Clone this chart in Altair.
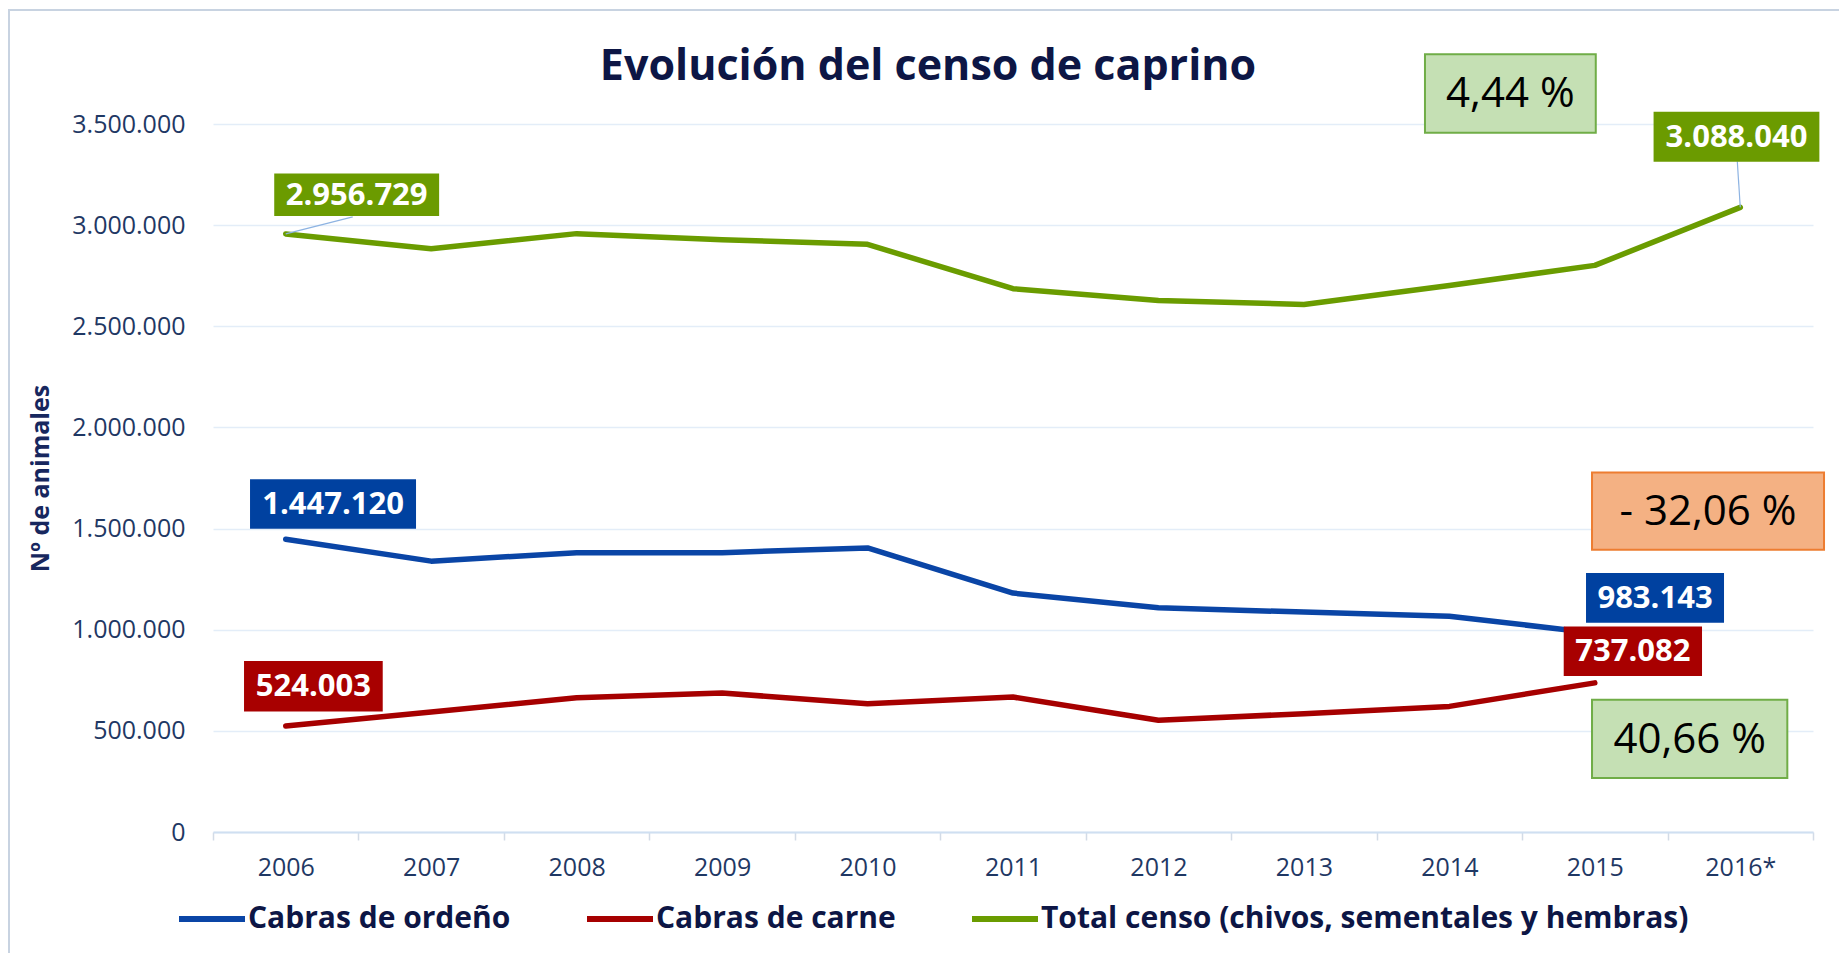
import altair as alt
import pandas as pd

# ---------------- data ----------------
title_text = "Evolución del censo de caprino"
years = ["2006", "2007", "2008", "2009", "2010", "2011", "2012", "2013", "2014", "2015", "2016*"]
ordeno = [1447120, 1339000, 1381000, 1381000, 1404000, 1181000, 1109000, 1087000, 1067000, 983143, None]
carne = [524003, 593000, 664000, 687000, 634000, 667000, 552000, 585000, 621000, 737082, None]
total = [2956729, 2883000, 2958000, 2928000, 2905000, 2686000, 2628000, 2608000, 2702000, 2801000, 3088040]
series = ["Cabras de ordeño", "Cabras de carne", "Total censo (chivos, sementales y hembras)"]
y_ticks = [0, 500000, 1000000, 1500000, 2000000, 2500000, 3000000, 3500000]

rows = []
for name, vals in zip(series, [ordeno, carne, total]):
    for yr, v in zip(years, vals):
        if v is not None:
            rows.append({"serie": name, "anio": yr, "valor": v})
df = pd.DataFrame(rows)


def pct_text(vals):
    v = [x for x in vals if x is not None]
    p = (v[-1] / v[0] - 1) * 100
    s = f"{abs(p):.2f}".replace(".", ",") + " %"
    return ("- " + s) if p < 0 else s


# ---------------- styles ----------------
line_colors = ["#0a45a6", "#a60000", "#6a9c00"]
box_colors = ["#0041a0", "#a80000", "#6b9b00"]
NAVY = "#1f3864"
DARK = "#0d1645"
FONT = "Open Sans"


def rect_path(x0, x1, y0, y1):
    return f"M{x0},{y0}H{x1}V{y1}H{x0}Z"


x_enc = alt.X(
    "anio:N",
    sort=years,
    scale=alt.Scale(type="band", domain=years, paddingInner=0, paddingOuter=0),
    axis=alt.Axis(
        title=None, labelFont=FONT, labelFontSize=25, labelColor=NAVY, labelAngle=0,
        labelPadding=15, tickBand="extent", tickColor="#d3dbe6", tickSize=8, tickWidth=1.5,
        domainColor="#cfdff1", domainWidth=2, grid=False,
    ),
)
y_enc = alt.Y(
    "valor:Q",
    scale=alt.Scale(domain=[0, 3500000], nice=False),
    axis=alt.Axis(
        values=y_ticks, format=",d", labelFont=FONT, labelFontSize=25, labelColor=NAVY,
        labelPadding=28, ticks=False, domain=False, gridColor="#e3edf8", gridWidth=1.5,
        title="Nº de animales", titleFont=FONT, titleFontSize=25, titleFontWeight="bold",
        titleColor="#17275e", titleX=-173, titleY=354, titleAngle=270,
        titleAlign="center", titleBaseline="middle",
    ),
)

one = pd.DataFrame({"t": [title_text]})

frame = alt.Chart(one).mark_rect(
    filled=False, stroke="#c8d3e1", strokeWidth=2
).encode(x=alt.value(-204), x2=alt.value(1700), y=alt.value(-114), y2=alt.value(900))

title = alt.Chart(one).mark_text(
    font=FONT, fontSize=43, fontWeight="bold", color=DARK, align="center", baseline="alphabetic"
).encode(text="t:N", x=alt.value(715), y=alt.value(-44))

lines = alt.Chart(df).mark_line(strokeWidth=5.5, strokeCap="round", strokeJoin="round").encode(
    x=x_enc,
    y=y_enc,
    color=alt.Color(
        "serie:N",
        scale=alt.Scale(domain=series, range=line_colors),
        legend=alt.Legend(
            orient="none", legendX=-37, legendY=759, direction="horizontal", title=None,
            symbolType="stroke", symbolSize=4356, symbolStrokeWidth=6,
            labelFont=FONT, labelFontSize=30, labelFontWeight="bold", labelColor=DARK,
            labelOffset=0, columnPadding=64, labelLimit=1000,
        ),
    ),
)

# value labels: (series index, year, box rect rel. to point, connector or None)
value_labels = [
    (2, "2006", (-11.5, 153.4, -60.3, -17.9), "M0,0L67,-17"),
    (2, "2016*", (-86.7, 79.1, -95.7, -45.7), "M0,0L-3,-46"),
    (0, "2006", (-35.7, 130.3, -59.9, -10.6), None),
    (0, "2015", (-8.8, 129.2, -60.0, -10.4), None),
    (1, "2006", (-41.7, 97.0, -64.9, -14.6), None),
    (1, "2015", (-31.1, 107.2, -56.5, -6.8), None),
]
# percent boxes: (series index, year anchor, rect rel. to point, fill, stroke)
pct_boxes = [
    (2, "2016*", (-315.3, -144.5, -153.0, -74.7), "#c5e0b4", "#70ad47"),
    (0, "2015", (-2.8, 229.2, -160.7, -83.4), "#f4b183", "#ed7d31"),
    (1, "2015", (-2.8, 192.5, 16.8, 95.2), "#c5e0b4", "#70ad47"),
]

layers = [frame, title, lines]
for si, yr, (x0, x1, y0, y1), conn in value_labels:
    base = alt.Chart(df).transform_filter(
        (alt.datum.serie == series[si]) & (alt.datum.anio == yr)
    ).encode(x=x_enc, y=y_enc)
    if conn:
        layers.append(base.mark_point(shape=conn, size=4, filled=False, stroke="#8db3e2",
                                      strokeWidth=1.2, opacity=1))
    layers.append(base.mark_point(shape=rect_path(x0, x1, y0, y1), size=4, filled=True,
                                  fill=box_colors[si], color=box_colors[si], strokeWidth=0, opacity=1))
    layers.append(base.mark_text(dx=(x0 + x1) / 2, dy=(y0 + y1) / 2 + 1, align="center",
                                 baseline="middle", font=FONT, fontSize=31, fontWeight="bold",
                                 color="white").encode(text=alt.Text("valor:Q", format=",d")))

all_vals = [ordeno, carne, total]
for si, yr, (x0, x1, y0, y1), fill, stroke in pct_boxes:
    base = alt.Chart(df).transform_filter(
        (alt.datum.serie == series[si]) & (alt.datum.anio == yr)
    ).encode(x=x_enc, y=y_enc)
    layers.append(base.mark_point(shape=rect_path(x0, x1, y0, y1), size=4, filled=True,
                                  fill=fill, color=fill, stroke=stroke, strokeWidth=2, opacity=1))
    layers.append(base.mark_text(text=pct_text(all_vals[si]), dx=(x0 + x1) / 2,
                                 dy=(y0 + y1) / 2 + 1, align="center", baseline="middle",
                                 font=FONT, fontSize=42, color="black"))

chart = alt.layer(*layers).properties(
    width=1600,
    height=708,
    padding={"left": 205, "top": 116, "right": 26, "bottom": 121},
    autosize=alt.AutoSizeParams(type="none"),
).configure(
    locale={"number": {"decimal": ",", "thousands": ".", "grouping": [3], "currency": ["", " €"]}}
).configure_view(stroke=None)

chart.save("out.html", embed_options={"renderer": "svg", "actions": False})
